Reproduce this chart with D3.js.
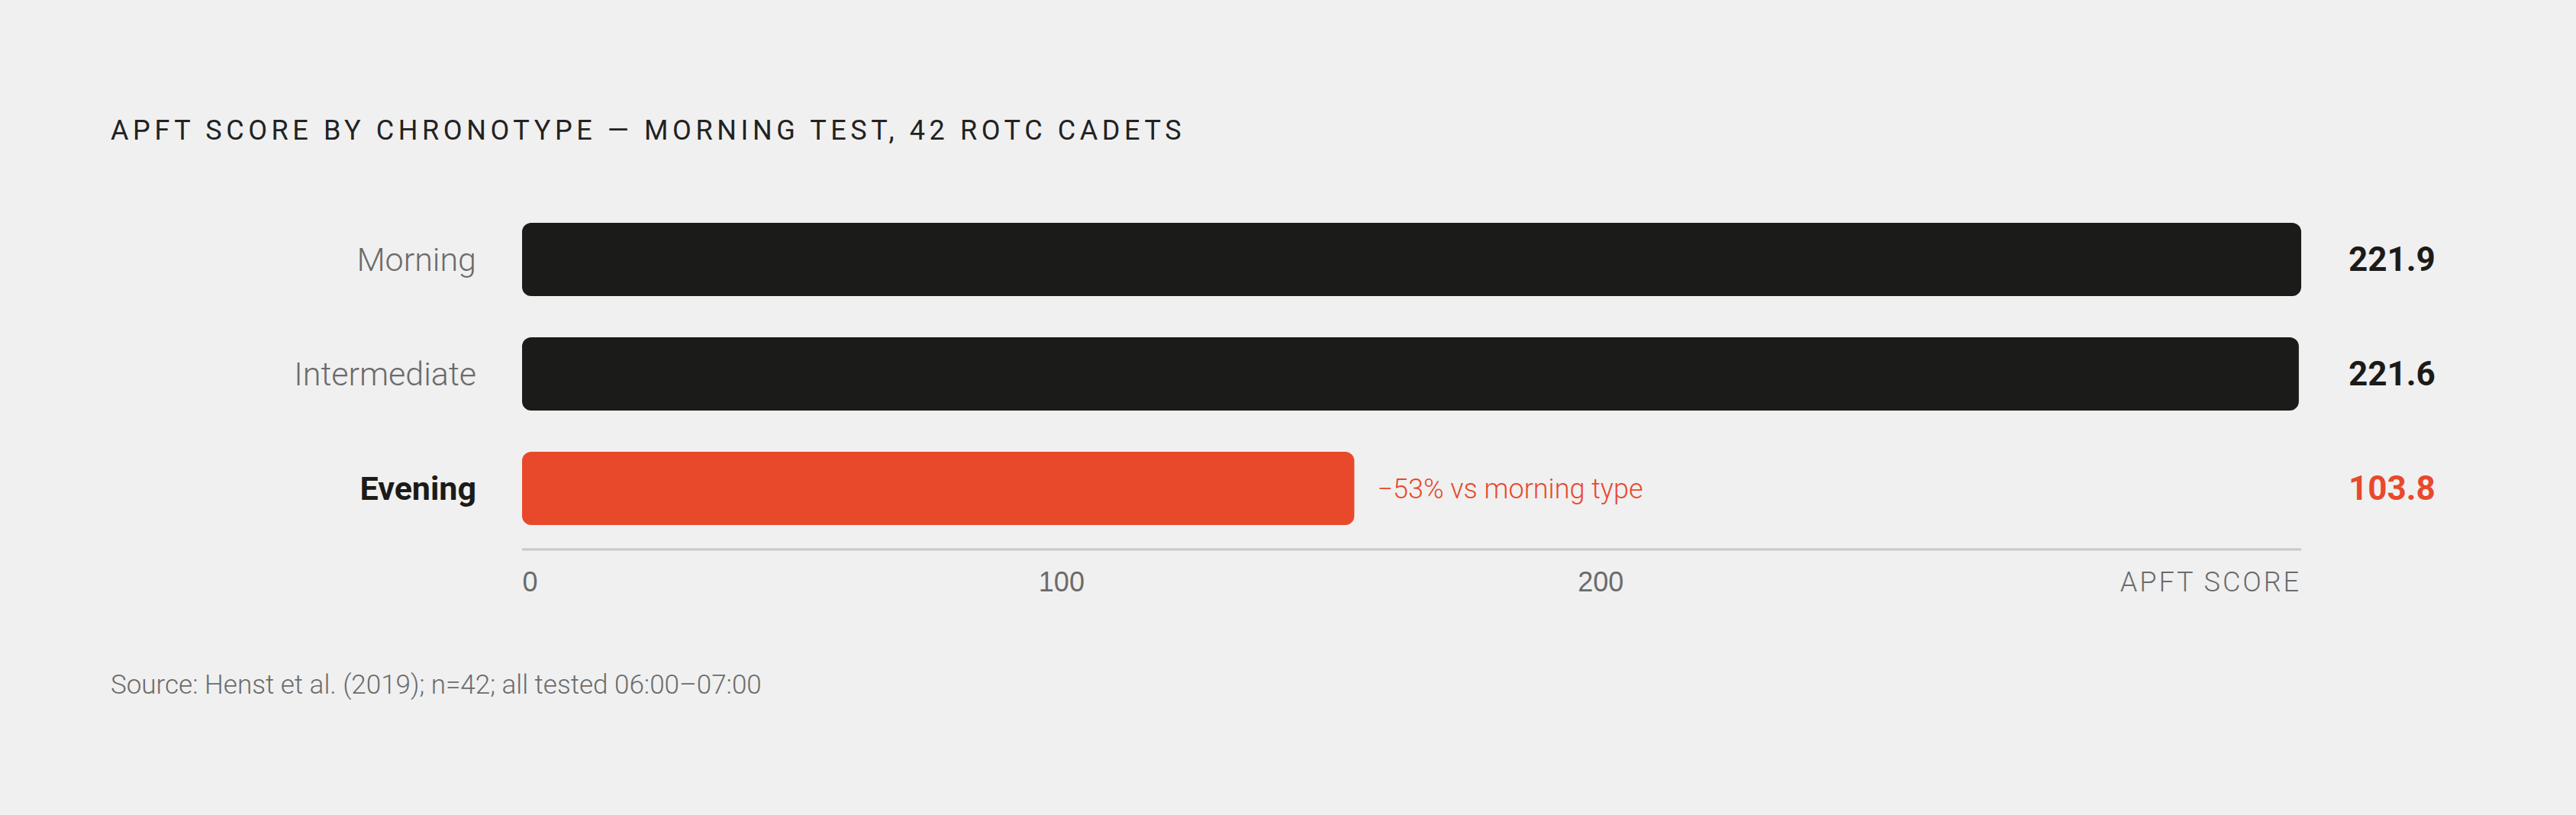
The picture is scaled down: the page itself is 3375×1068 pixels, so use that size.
<!DOCTYPE html>
<html>
<head>
<meta charset="utf-8">
<script src="https://cdn.jsdelivr.net/npm/d3@7"></script>
<style>
  html, body { margin: 0; padding: 0; background: #f0f0f0; }
  svg { display: block; font-family: Roboto, "Noto Sans", sans-serif; }
</style>
</head>
<body>
<div id="chart"></div>
<script>
// data
var categories = ["Morning", "Intermediate", "Evening"];
var scores = [221.9, 221.6, 103.8];
var axisTicks = [0, 100, 200];
var axisMax = 330;
var highlight = "Evening";
var noteText = "\u221253% vs morning type";
var titleText = "APFT SCORE BY CHRONOTYPE \u2014 MORNING TEST, 42 ROTC CADETS";
var sourceText = "Source: Henst et al. (2019); n=42; all tested 06:00\u201307:00";
var axisLabel = "APFT SCORE";

var W = 3375, H = 1068;
var ink = "#1b1b19", red = "#e8492b", grey = "#6b6b6b";

var svg = d3.select("#chart").append("svg").attr("width", W).attr("height", H);
svg.append("rect").attr("width", W).attr("height", H).attr("fill", "#f0f0f0");

var xBar = d3.scaleLinear().domain([0, d3.max(scores)]).range([684, 3015]);
var xAxis = d3.scaleLinear().domain([0, axisMax]).range([684, 3015]);
var y = d3.scaleBand().domain(categories).range([265, 715]).paddingInner(0.36).paddingOuter(0.18);

// title
svg.append("text").attr("x", 145).attr("y", 183)
  .attr("font-size", 36).attr("font-weight", 400).attr("letter-spacing", 5.6)
  .attr("fill", "#222").text(titleText);

var rows = svg.selectAll("g.row").data(categories).enter().append("g").attr("class", "row");

rows.append("rect")
  .attr("x", xBar(0))
  .attr("y", function(d){ return y(d); })
  .attr("width", function(d, i){ return xBar(scores[i]) - xBar(0); })
  .attr("height", y.bandwidth())
  .attr("rx", 12)
  .attr("fill", function(d){ return d == highlight ? red : ink; });

rows.append("text")
  .attr("x", 624)
  .attr("y", function(d){ return y(d) + y.bandwidth() / 2; })
  .attr("dy", "0.35em")
  .attr("text-anchor", "end")
  .attr("font-size", 43)
  .attr("font-weight", function(d){ return d == highlight ? 700 : 300; })
  .attr("fill", function(d){ return d == highlight ? ink : grey; })
  .text(function(d){ return d; });

rows.append("text")
  .attr("x", 3077)
  .attr("y", function(d){ return y(d) + y.bandwidth() / 2; })
  .attr("dy", "0.35em")
  .attr("font-size", 44)
  .attr("font-weight", 700)
  .attr("fill", function(d){ return d == highlight ? red : ink; })
  .text(function(d, i){ return scores[i].toFixed(1); });

// note next to the highlighted bar
var hi = categories.indexOf(highlight);
svg.append("text")
  .attr("x", xBar(scores[hi]) + 30)
  .attr("y", y(highlight) + y.bandwidth() / 2)
  .attr("dy", "0.35em")
  .attr("font-size", 36)
  .attr("font-weight", 300)
  .attr("fill", red)
  .text(noteText);

// axis
var gx = svg.append("g").attr("transform", "translate(0,720)")
  .call(d3.axisBottom(xAxis).tickValues(axisTicks).tickSize(0).tickFormat(d3.format("d")));
gx.select(".domain").remove();
gx.selectAll("text")
  .attr("y", 55).attr("dy", 0)
  .attr("font-family", null)
  .attr("font-size", 36).attr("font-weight", 300)
  .attr("fill", grey)
  .attr("text-anchor", function(d){ return d == 0 ? "start" : "middle"; });

svg.append("line")
  .attr("x1", xAxis(0)).attr("x2", xAxis.range()[1])
  .attr("y1", 720).attr("y2", 720)
  .attr("stroke", "#c8c8c8").attr("stroke-width", 3);

svg.append("text")
  .attr("x", xAxis.range()[1]).attr("y", 775)
  .attr("text-anchor", "end")
  .attr("font-size", 36).attr("font-weight", 300).attr("letter-spacing", 3)
  .attr("fill", grey).text(axisLabel);

// source
svg.append("text").attr("x", 145).attr("y", 909)
  .attr("font-size", 35).attr("font-weight", 300)
  .attr("fill", grey).text(sourceText);
</script>
</body>
</html>
